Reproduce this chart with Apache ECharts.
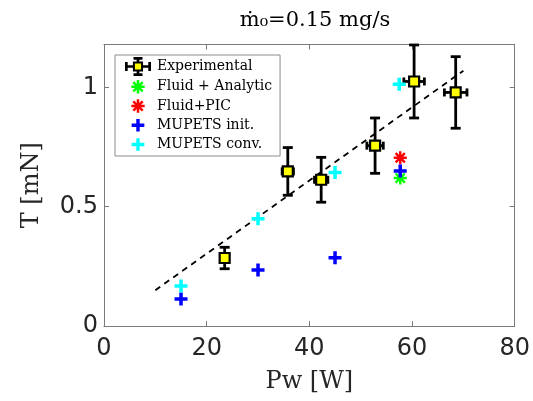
<!DOCTYPE html>
<html><head><meta charset="utf-8">
<script src="https://cdn.jsdelivr.net/npm/echarts@6/dist/echarts.min.js"></script>
<style>html,body{margin:0;padding:0;background:#fff}#c{width:533px;height:401px}</style>
</head><body><div id="c"></div>
<script>
// ---- data ----
const expX = [23.5, 35.8, 42.3, 52.8, 60.4, 68.5];
const expY = [0.285, 0.648, 0.613, 0.756, 1.025, 0.979];
const expYErr = [0.045, 0.10, 0.094, 0.116, 0.153, 0.15];
const expXErr = [0.5, 1.1, 1.3, 1.6, 2.0, 2.2];
const fluidAnalytic = [[57.7, 0.62]];
const fluidPIC = [[57.7, 0.705]];
const mupetsInit = [[15, 0.113], [30, 0.235], [45, 0.286], [57.7, 0.65]];
const mupetsConv = [[15, 0.168], [30, 0.45], [45, 0.643], [57.5, 1.013]];
const fitX = [10, 70];
const fitY = [0.15, 1.07];
const xTicks = [0, 20, 40, 60, 80];
const yTicks = [0, 0.5, 1];
const titleText = 'ṁ₀=0.15 mg/s';

// ---- symbols ----
const plusBody = 'M3.65,0H6.35V3.65H10V6.35H6.35V10H3.65V6.35H0V3.65H3.65Z';
function starBodyPath() {
  // 8-arm asterisk outline centred at (10,10)
  const L = 9, w = 1.7, pts = [];
  const rin = w / Math.sin(Math.PI / 8);
  for (let k = 0; k < 8; k++) {
    const a = k * Math.PI / 4, dx = Math.cos(a), dy = Math.sin(a), px = -dy, py = dx;
    pts.push([10 + L * dx - w * px, 10 + L * dy - w * py]);
    pts.push([10 + L * dx + w * px, 10 + L * dy + w * py]);
    const b = a + Math.PI / 8;
    pts.push([10 + rin * Math.cos(b), 10 + rin * Math.sin(b)]);
  }
  return pts.map((q, i) => (i ? 'L' : 'M') + q[0].toFixed(2) + ',' + q[1].toFixed(2)).join('') + 'Z';
}
const starBody = starBodyPath();
const plusSym = 'path://' + plusBody;
const starSym = 'path://' + starBody;
const plusIcon = 'path://M-1.7,-1.7M11.7,11.7' + plusBody;
const starIcon = 'path://M-1.5,-1.5M21.5,21.5' + starBody;
function expIconPath() {
  const s = 3.5, t = 0.3, Lx = 10, Ly = 7, c = 3, ct = 0.3;
  const p = [
    [-s,-s],[-t,-s],[-t,-Ly+ct],[-c,-Ly+ct],[-c,-Ly-ct],[c,-Ly-ct],[c,-Ly+ct],[t,-Ly+ct],[t,-s],
    [s,-s],[s,-t],[Lx-ct,-t],[Lx-ct,-c],[Lx+ct,-c],[Lx+ct,c],[Lx-ct,c],[Lx-ct,t],[s,t],
    [s,s],[t,s],[t,Ly-ct],[c,Ly-ct],[c,Ly+ct],[-c,Ly+ct],[-c,Ly-ct],[-t,Ly-ct],[-t,s],
    [-s,s],[-s,t],[-Lx+ct,t],[-Lx+ct,c],[-Lx-ct,c],[-Lx-ct,-c],[-Lx+ct,-c],[-Lx+ct,-t],[-s,-t]
  ];
  return 'path://' + p.map((q, i) => (i ? 'L' : 'M') + (q[0] + 11).toFixed(2) + ',' + (q[1] + 8).toFixed(2)).join('') + 'Z';
}

const axisColor = '#262626';
const boxColor = '#7a7a7a';
const tickFont = {fontFamily: 'DejaVu Sans', fontSize: 24, color: axisColor};
const serif = 'DejaVu Serif';

const chart = echarts.init(document.getElementById('c'), null, {renderer: 'canvas'});
const baseX = {
  type: 'value', min: 0, max: 80, interval: 20,
  axisLine: {show: true, onZero: false, lineStyle: {color: boxColor, width: 1}},
  axisTick: {show: true, inside: true, length: 5, lineStyle: {color: boxColor, width: 1}},
  splitLine: {show: false}
};
const baseY = {
  type: 'value', min: 0, max: 1.18, interval: 0.5,
  axisLine: {show: true, onZero: false, lineStyle: {color: boxColor, width: 1}},
  axisTick: {show: true, inside: true, length: 5, lineStyle: {color: boxColor, width: 1}},
  splitLine: {show: false}
};

chart.setOption({
  animation: false,
  backgroundColor: '#fff',
  title: {
    text: titleText, left: 310, top: 5, textAlign: 'center',
    textStyle: {fontFamily: serif, fontSize: 21, fontWeight: 'normal', color: '#000'}
  },
  grid: {left: 104, right: 17, top: 44.5, bottom: 75},
  xAxis: [
    Object.assign({}, baseX, {
      position: 'bottom',
      axisLabel: Object.assign({show: true, margin: 11, formatter: v => xTicks.includes(v) ? String(v) : ''}, tickFont),
      name: 'Pw [W]', nameLocation: 'middle', nameGap: 44,
      nameTextStyle: {fontFamily: serif, fontSize: 24, color: axisColor}
    }),
    Object.assign({}, baseX, {position: 'top', axisLabel: {show: false}})
  ],
  yAxis: [
    Object.assign({}, baseY, {
      position: 'left',
      axisLabel: Object.assign({show: true, margin: 6, showMaxLabel: false,
        formatter: v => yTicks.includes(v) ? String(v) : ''}, tickFont),
      name: 'T [mN]', nameLocation: 'middle', nameGap: 60,
      nameTextStyle: {fontFamily: serif, fontSize: 24, color: axisColor}
    }),
    Object.assign({}, baseY, {position: 'right', axisLabel: {show: false}})
  ],
  legend: {
    orient: 'vertical', left: 115, top: 55, padding: [2, 8, 3, 10], itemGap: 2.25,
    itemWidth: 28, itemHeight: 17, selectedMode: false,
    backgroundColor: '#fff', borderColor: '#8c8c8c', borderWidth: 1,
    textStyle: {fontFamily: serif, fontSize: 14, color: '#000'},
    data: [
      {name: 'Experimental', icon: expIconPath(), itemStyle: {color: '#ffff00', borderColor: '#000', borderWidth: 2}},
      {name: 'Fluid + Analytic', icon: starIcon, itemStyle: {color: '#00ff00', borderWidth: 0}},
      {name: 'Fluid+PIC', icon: starIcon, itemStyle: {color: '#ff0000', borderWidth: 0}},
      {name: 'MUPETS init.', icon: plusIcon, itemStyle: {color: '#0000ff', borderWidth: 0}},
      {name: 'MUPETS conv.', icon: plusIcon, itemStyle: {color: '#00ffff', borderWidth: 0}}
    ]
  },
  series: [
    {
      type: 'line', name: 'fit', data: fitX.map((x, i) => [x, fitY[i]]),
      symbol: 'none', lineStyle: {color: '#000', width: 1.8, type: [6, 5]}, z: 2, silent: true
    },
    {
      type: 'custom', name: 'errbars', z: 3,
      data: expX.map((x, i) => [x, expY[i], expYErr[i], expXErr[i]]),
      encode: {x: 0, y: 1},
      renderItem: function (params, api) {
        const x = api.value(0), y = api.value(1), ey = api.value(2), ex = api.value(3);
        const top = api.coord([x, y + ey]), bot = api.coord([x, y - ey]);
        const lf = api.coord([x - ex, y]), rt = api.coord([x + ex, y]);
        const cw = 5, ch = 4;
        const st = {stroke: '#000', lineWidth: 2.8};
        const L = (x1, y1, x2, y2) => ({type: 'line', shape: {x1, y1, x2, y2}, style: st});
        return {type: 'group', children: [
          L(top[0], top[1], bot[0], bot[1]),
          L(top[0] - cw, top[1], top[0] + cw, top[1]),
          L(bot[0] - cw, bot[1], bot[0] + cw, bot[1]),
          L(lf[0], lf[1], rt[0], rt[1]),
          L(lf[0], lf[1] - ch, lf[0], lf[1] + ch),
          L(rt[0], rt[1] - ch, rt[0], rt[1] + ch)
        ]};
      }
    },
    {
      type: 'scatter', name: 'Experimental', data: expX.map((x, i) => [x, expY[i]]),
      symbol: 'rect', symbolSize: 10, z: 4,
      itemStyle: {color: '#ffff00', borderColor: '#000', borderWidth: 2.2, opacity: 1}
    },
    {type: 'scatter', name: 'Fluid + Analytic', data: fluidAnalytic, symbol: starSym, symbolSize: 13, z: 5,
      itemStyle: {color: '#00ff00', opacity: 1}},
    {type: 'scatter', name: 'Fluid+PIC', data: fluidPIC, symbol: starSym, symbolSize: 13, z: 5,
      itemStyle: {color: '#ff0000', opacity: 1}},
    {type: 'scatter', name: 'MUPETS init.', data: mupetsInit, symbol: plusSym, symbolSize: 13, z: 5,
      itemStyle: {color: '#0000ff', opacity: 1}},
    {type: 'scatter', name: 'MUPETS conv.', data: mupetsConv, symbol: plusSym, symbolSize: 13, z: 5,
      itemStyle: {color: '#00ffff', opacity: 1}}
  ]
});
</script></body></html>
